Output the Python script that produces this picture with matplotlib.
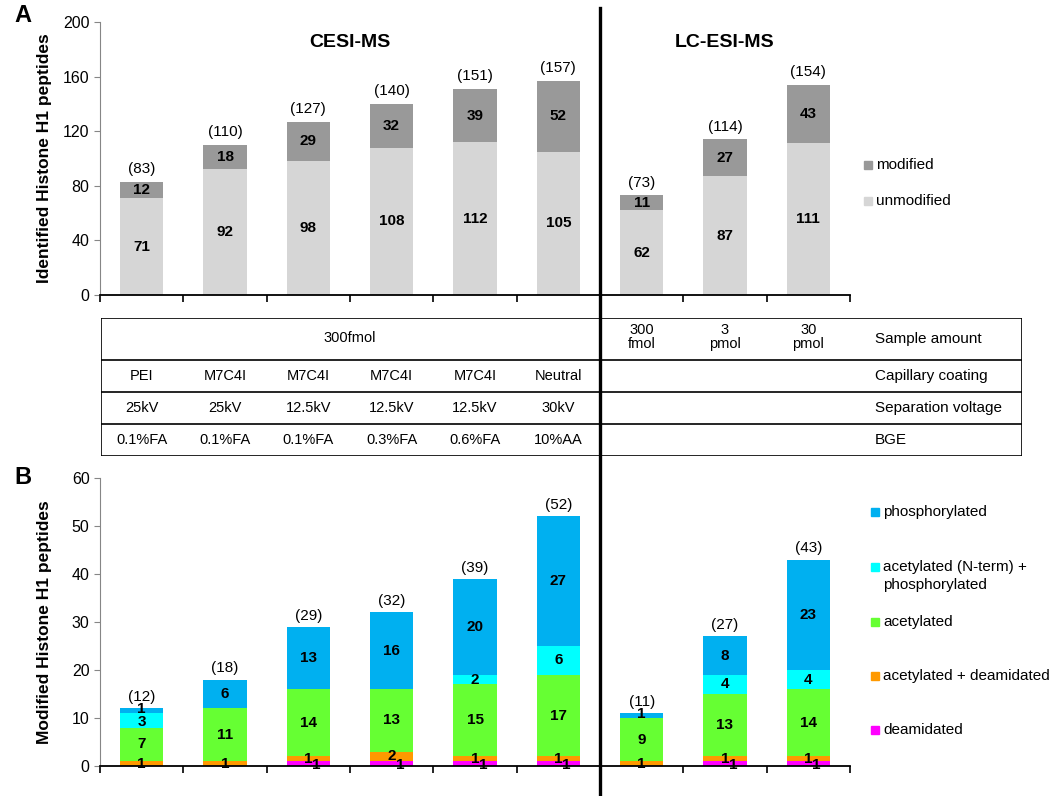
import numpy as np
import matplotlib
matplotlib.use('Agg')
import matplotlib.pyplot as plt
from matplotlib.patches import Rectangle
from matplotlib.lines import Line2D

plt.rcParams['font.family'] = ['Liberation Sans', 'DejaVu Sans']

# panel A data
unmodified = [71, 92, 98, 108, 112, 105, 62, 87, 111]
modified = [12, 18, 29, 32, 39, 52, 11, 27, 43]

# panel B data (bottom to top)
deamidated = [0, 0, 1, 1, 1, 1, 0, 1, 1]
acet_deam = [1, 1, 1, 2, 1, 1, 1, 1, 1]
acetylated = [7, 11, 14, 13, 15, 17, 9, 13, 14]
acetN_phos = [3, 0, 0, 0, 2, 6, 0, 4, 4]
phosphorylated = [1, 6, 13, 16, 20, 27, 1, 8, 23]

# table text
coating = ['PEI', 'M7C4I', 'M7C4I', 'M7C4I', 'M7C4I', 'Neutral']
voltage = ['25kV', '25kV', '12.5kV', '12.5kV', '12.5kV', '30kV']
bge = ['0.1%FA', '0.1%FA', '0.1%FA', '0.3%FA', '0.6%FA', '10%AA']
lc_amount = ['300\nfmol', '3\npmol', '30\npmol']
row_names = ['Sample amount', 'Capillary coating', 'Separation voltage', 'BGE']

W, H = 1050, 796
fig = plt.figure(figsize=(W / 100, H / 100), dpi=100)

def fx(px):
    return px / W

def fy(py):
    return 1 - py / H

x = np.arange(len(unmodified))
bw = 0.52
cellfont = 10.5


def style_axis(ax):
    ax.set_xlim(-0.5, 8.5)
    ax.spines['top'].set_visible(False)
    ax.spines['right'].set_visible(False)
    ax.spines['left'].set_color('#868686')
    ax.spines['bottom'].set_color('black')
    ax.spines['bottom'].set_linewidth(1.3)
    ax.set_xticks([])
    ax.set_xticks(np.arange(-0.5, 9, 1), minor=True)
    ax.tick_params(axis='x', which='minor', length=5, color='black', width=1.2)
    ax.tick_params(axis='y', length=4, color='#868686', labelsize=11.5)


# ---------- panel A ----------
axA = fig.add_axes([fx(100), fy(295), fx(750), (295 - 22) / H])
axA.bar(x, unmodified, bw, color='#d6d6d6')
axA.bar(x, modified, bw, bottom=unmodified, color='#999999')
axA.set_ylim(0, 200)
axA.set_yticks(range(0, 201, 40))
style_axis(axA)
axA.set_ylabel('Identified Histone H1 peptides', fontsize=12.5, fontweight='bold', labelpad=8)
for i in range(len(x)):
    axA.text(x[i], unmodified[i] / 2, str(unmodified[i]), ha='center', va='center',
             fontsize=11, fontweight='bold')
    axA.text(x[i], unmodified[i] + modified[i] / 2, str(modified[i]), ha='center', va='center',
             fontsize=11, fontweight='bold')
    tot = unmodified[i] + modified[i]
    axA.annotate('(%d)' % tot, (x[i], tot), xytext=(0, 4), textcoords='offset points',
                 ha='center', va='bottom', fontsize=11)
axA.text(2.5, 185, 'CESI-MS', ha='center', va='center', fontsize=14, fontweight='bold')
axA.text(7.0, 185, 'LC-ESI-MS', ha='center', va='center', fontsize=14, fontweight='bold')

# ---------- panel B ----------
axB = fig.add_axes([fx(100), fy(766), fx(750), (766 - 478) / H])
layers = [deamidated, acet_deam, acetylated, acetN_phos, phosphorylated]
colors = ['#ff00ff', '#ff9900', '#66ff33', '#00ffff', '#00b0f0']
bottom = np.zeros(len(x))
for k, (vals, c) in enumerate(zip(layers, colors)):
    vals = np.array(vals)
    axB.bar(x, vals, bw, bottom=bottom, color=c)
    for i in range(len(x)):
        if vals[i] == 0:
            continue
        xo = x[i] + (0.1 if k == 0 else 0)
        yo = bottom[i] + vals[i] / 2
        if k == 0:
            yo = bottom[i] + 0.15
        if k == 3 and vals[i] == 3:
            yo -= 0.3
        if k == 4 and vals[i] == 1:
            yo += 0.3
        axB.text(xo, yo, str(vals[i]), ha='center', va='center', fontsize=11, fontweight='bold')
    bottom = bottom + vals
for i in range(len(x)):
    axB.annotate('(%d)' % bottom[i], (x[i], bottom[i]), xytext=(0, 3), textcoords='offset points',
                 ha='center', va='bottom', fontsize=11)
axB.set_ylim(0, 60)
axB.set_yticks(range(0, 61, 10))
style_axis(axB)
axB.set_ylabel('Modified Histone H1 peptides', fontsize=12.5, fontweight='bold', labelpad=14)

# ---------- table ----------
tl, tr, tt, tb = 101, 1022, 318, 456
axT = fig.add_axes([fx(tl), fy(tb), fx(tr - tl), (tb - tt) / H])
x0 = (tl - 100) / (750 / 9) - 0.5
x1 = (tr - 100) / (750 / 9) - 0.5
axT.set_xlim(x0, x1)
axT.set_ylim(tb, tt)
axT.axis('off')
row_edges = [318, 360, 392, 424, 456]
for yy in row_edges:
    axT.plot([x0, x1], [yy, yy], color='black', lw=1.2)
axT.plot([x0, x0], [tt, tb], color='black', lw=1.2)
axT.plot([x1, x1], [tt, tb], color='black', lw=1.2)
mids = [(row_edges[j] + row_edges[j + 1]) / 2 for j in range(4)]
axT.text(2.5, mids[0] - 1, '300fmol', ha='center', va='center', fontsize=cellfont)
for i in range(6):
    axT.text(x[i], mids[1], coating[i], ha='center', va='center', fontsize=cellfont)
    axT.text(x[i], mids[2], voltage[i], ha='center', va='center', fontsize=cellfont)
    axT.text(x[i], mids[3], bge[i], ha='center', va='center', fontsize=cellfont)
for i in range(3):
    axT.text(x[6 + i], mids[0] - 2, lc_amount[i], ha='center', va='center', fontsize=cellfont,
             linespacing=0.95)
for j in range(4):
    axT.text(8.8, mids[j], row_names[j], ha='left', va='center', fontsize=11)

# ---------- legends ----------
def legend_item(px, py, color, label):
    fig.patches.append(Rectangle((fx(px), fy(py + 4)), fx(8), 8 / H, color=color,
                                 transform=fig.transFigure, figure=fig))
    fig.text(fx(px + 12), fy(py), label, ha='left', va='center', fontsize=11)

legend_item(864, 165, '#999999', 'modified')
legend_item(864, 201, '#d6d6d6', 'unmodified')
legend_item(871, 512, '#00b0f0', 'phosphorylated')
fig.patches.append(Rectangle((fx(871), fy(571)), fx(8), 8 / H, color='#00ffff',
                             transform=fig.transFigure, figure=fig))
fig.text(fx(883), fy(576), 'acetylated (N-term) +\nphosphorylated', ha='left', va='center',
         fontsize=11, linespacing=1.3)
legend_item(871, 622, '#66ff33', 'acetylated')
legend_item(871, 676, '#ff9900', 'acetylated + deamidated')
legend_item(871, 730, '#ff00ff', 'deamidated')

# divider and panel letters
fig.lines.append(Line2D([fx(600), fx(600)], [0, fy(8)], color='black', lw=2.4,
                        transform=fig.transFigure, figure=fig))
fig.text(fx(14), fy(16), 'A', fontsize=17, fontweight='bold', ha='left', va='center')
fig.text(fx(14), fy(478), 'B', fontsize=17, fontweight='bold', ha='left', va='center')

fig.savefig('out.png', dpi=100)
